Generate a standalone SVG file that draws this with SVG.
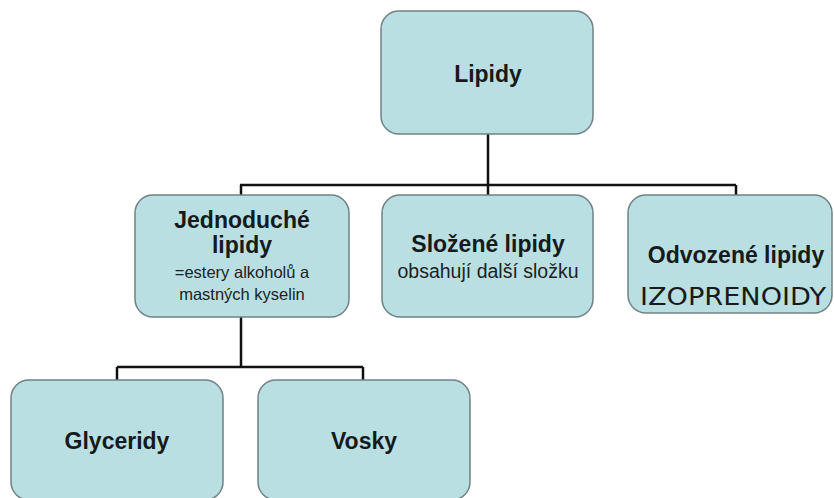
<svg xmlns="http://www.w3.org/2000/svg" width="834" height="498" viewBox="0 0 834 498">
<style>
.box{fill:#b9dfe3;stroke:#6f8284;stroke-width:1.5}
.b{font-family:"Liberation Sans",Arial,sans-serif;font-weight:bold;font-size:23px;fill:#151a1c;text-anchor:middle}
.r{font-family:"Liberation Sans",Arial,sans-serif;font-size:19.5px;fill:#1d2224;text-anchor:middle}
.s{font-family:"Liberation Sans",Arial,sans-serif;font-size:16.5px;fill:#1d2224;text-anchor:middle}
.h{font-family:"DejaVu Sans",sans-serif;font-size:24px;fill:#1a1a1a}
.c{fill:none;stroke:#111;stroke-width:2.5}
</style>
<rect width="834" height="498" fill="#ffffff"/>
<g id="connectors">
<path class="c" d="M488 134V185M240 185H736M241 185V195M488 185V195M736 185V195"/>
<path class="c" d="M241 317V367M117 367H363M117 367V380M363 367V380"/>
</g>
<g id="lipidy">
<rect class="box" x="381" y="11" width="212" height="123" rx="18"/>
<text class="b" x="488" y="82" font-size="22.5">Lipidy</text>
</g>
<g id="jednoduche">
<rect class="box" x="135" y="195" width="214" height="122" rx="18"/>
<text class="b" x="242" y="228">Jednoduché</text>
<text class="b" x="242" y="253">lipidy</text>
<text class="s" x="242" y="278">=estery alkoholů a</text>
<text class="s" x="242" y="300">mastných kyselin</text>
</g>
<g id="slozene">
<rect class="box" x="382" y="195" width="211" height="122" rx="18"/>
<text class="b" x="488" y="252">Složené lipidy</text>
<text class="r" x="488" y="278">obsahují další složku</text>
</g>
<g id="odvozene">
<rect class="box" x="628" y="195" width="204" height="118" rx="18"/>
<text class="b" x="736" y="263">Odvozené lipidy</text>
<text class="h" x="640" y="305" textLength="186" lengthAdjust="spacingAndGlyphs">IZOPRENOIDY</text>
</g>
<g id="glyceridy">
<rect class="box" x="11" y="380" width="212" height="120" rx="18"/>
<text class="b" x="117" y="449">Glyceridy</text>
</g>
<g id="vosky">
<rect class="box" x="258" y="380" width="212" height="120" rx="18"/>
<text class="b" x="364" y="449">Vosky</text>
</g>
</svg>
